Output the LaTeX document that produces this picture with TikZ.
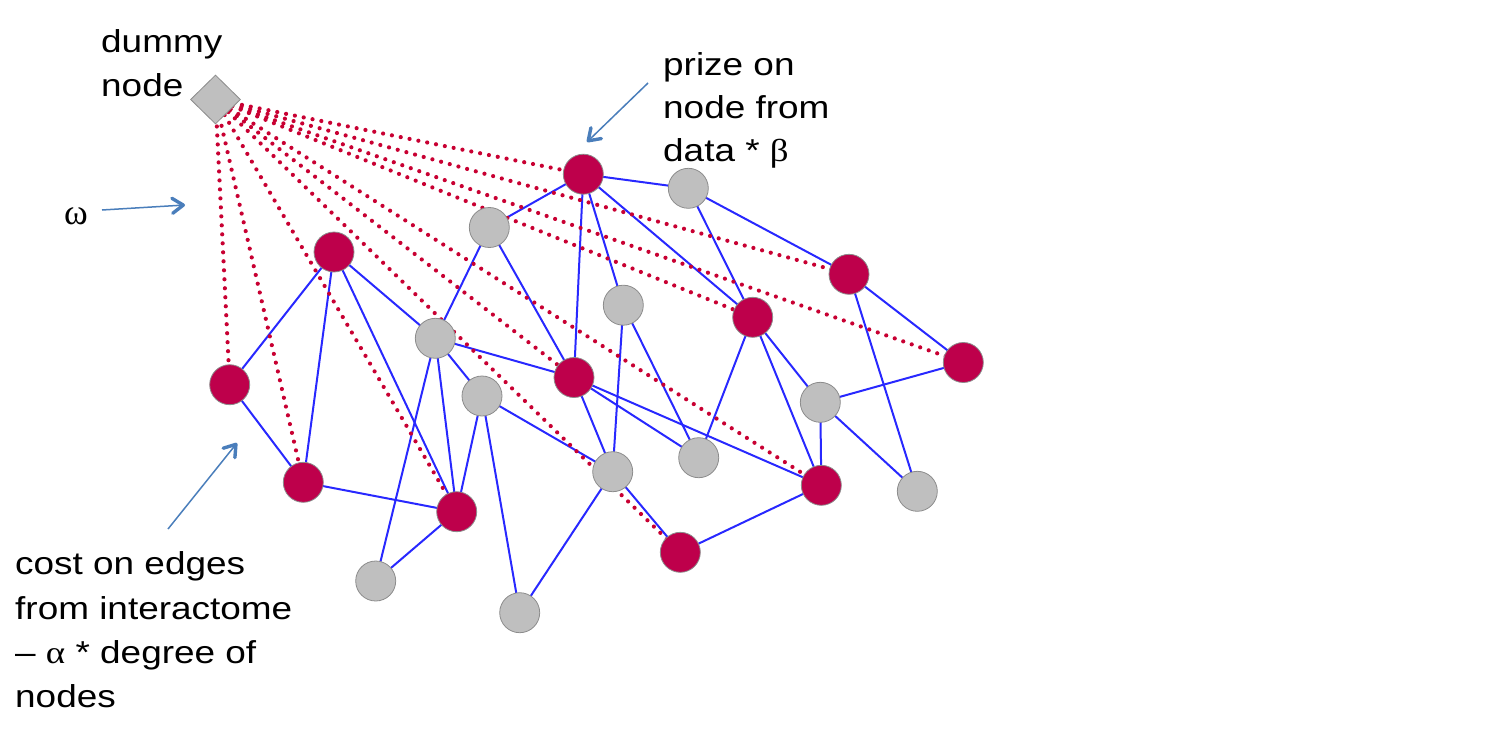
\documentclass[tikz,border=0pt]{standalone}
\usepackage{fontspec}
\usepackage{graphicx}
\setmainfont{Liberation Sans}
\newfontfamily\greekserif{Liberation Serif}
\usetikzlibrary{shapes.geometric,arrows.meta,backgrounds}
\definecolor{prizered}{RGB}{190,0,75}
\definecolor{plaingray}{RGB}{191,191,191}
\definecolor{rimgray}{RGB}{140,140,140}
\definecolor{edgeblue}{RGB}{40,40,255}
\definecolor{dotred}{RGB}{200,0,50}
\definecolor{noteblue}{RGB}{74,126,187}
\newcommand{\wide}[1]{\scalebox{1.165}[1]{#1}}
\newcommand{\gk}[1]{{\greekserif #1}}
\begin{document}
\begin{tikzpicture}[x=1pt,y=-1pt,
  hit/.style={circle,fill=prizered,draw=rimgray,line width=0.8pt,minimum size=40pt,inner sep=0pt},
  other/.style={circle,fill=plaingray,draw=rimgray,line width=0.8pt,minimum size=40pt,inner sep=0pt},
  root/.style={diamond,fill=plaingray,draw=rimgray,line width=0.8pt,minimum width=50pt,minimum height=49pt,inner sep=0pt},
  edgeline/.style={draw=edgeblue,line width=2pt},
  dotline/.style={draw=dotred,line width=4.2pt,line cap=round,dash pattern=on 0pt off 9pt},
  notearrow/.style={draw=noteblue,line width=1.5pt,-{Straight Barb[round,length=11pt,width=15pt,line width=3.4pt]}},
  txt/.style={anchor=base west,inner sep=0pt,font=\fontsize{31.7}{44}\selectfont}]
\useasboundingbox (0,0) rectangle (1501,736);

% dummy node
\node[root] (D) at (215.5,99.5) {};

% prize (red) nodes
\node[hit] (R1) at (583.3,174.2) {};
\node[hit] (R2) at (334,252) {};
\node[hit] (R3) at (849,274.3) {};
\node[hit] (R4) at (752.7,317.3) {};
\node[hit] (R5) at (963.3,362.5) {};
\node[hit] (R6) at (574,377.5) {};
\node[hit] (R7) at (229.7,384.7) {};
\node[hit] (R8) at (303.3,482.3) {};
\node[hit] (R9) at (456.7,511.7) {};
\node[hit] (R10) at (821.3,485.3) {};
\node[hit] (R11) at (680.3,552.3) {};

% other (gray) nodes
\node[other] (G1) at (688.3,188.3) {};
\node[other] (G2) at (489.3,227.5) {};
\node[other] (G3) at (623.3,305.2) {};
\node[other] (G4) at (435.3,338.3) {};
\node[other] (G5) at (482,396) {};
\node[other] (G6) at (820.3,402.3) {};
\node[other] (G7) at (698.7,457.7) {};
\node[other] (G8) at (612.7,471.7) {};
\node[other] (G9) at (917.3,491.3) {};
\node[other] (G10) at (375.7,581) {};
\node[other] (G11) at (519.7,612.7) {};

\begin{pgfonlayer}{background}
\foreach \a/\b in {R1/G1,R1/G2,R1/R6,R1/G3,R1/R4,G1/R3,G1/R4,R3/R5,R3/G9,R5/G6,
  R4/G7,R4/R10,R4/G6,G6/R10,G6/G9,G3/G8,G3/G7,R6/G8,R6/G7,R6/R10,R6/G4,R6/G2,
  G2/G4,R2/R7,R2/R8,R2/R9,R2/G4,R7/R8,R8/R9,G4/G10,G4/R9,G4/G5,G5/R9,G5/G11,
  G5/G8,G8/G11,G8/R11,R9/G10,R11/R10}
  \draw[edgeline] (\a.center) -- (\b.center);
\foreach \b in {R1,R3,R5,R4,R6,R10,R11,R9,R8,R7}
  \draw[dotline] (D.center) -- (\b.center);
\end{pgfonlayer}

% labels
\node[txt] (dummy1) at (101,52) {\wide{dummy}};
\node[txt] (dummy2) at (101,96) {\wide{node}};

\node[txt] (prize1) at (663,75) {\wide{prize on}};
\node[txt] (prize2) at (663,118.5) {\wide{node from}};
\node[txt] (prize3) at (663,161.5) {\wide{data * \gk{β}}};

\node[anchor=base west,inner sep=0pt,font=\fontsize{36}{44}\selectfont\greekserif] (omega) at (64,224.5) {ω};

\node[txt] (cost1) at (15,574.5) {\wide{cost on edges}};
\node[txt] (cost2) at (15,619) {\wide{from interactome}};
\node[txt] (cost3) at (15,663.5) {\wide{– \gk{α} * degree of}};
\node[txt] (cost4) at (15,707.5) {\wide{nodes}};

% annotation arrows
\coordinate (prizeTail) at (648,83);
\coordinate (prizeTip) at (587,142);
\coordinate (omegaTail) at (102,210);
\coordinate (omegaTip) at (185,205);
\coordinate (costTail) at (168,529);
\coordinate (costTip) at (237,443);
\draw[notearrow] (prizeTail) -- (prizeTip);
\draw[notearrow] (omegaTail) -- (omegaTip);
\draw[notearrow] (costTail) -- (costTip);
\end{tikzpicture}
\end{document}
